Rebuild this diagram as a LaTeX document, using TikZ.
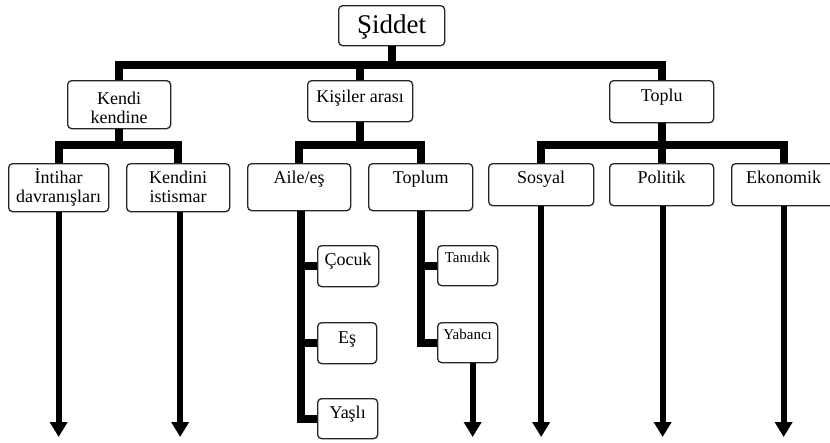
\documentclass[tikz,border=0pt]{standalone}
\usepackage{fontspec}
\setmainfont{Liberation Serif}
\usetikzlibrary{arrows.meta}

\begin{document}
\begin{tikzpicture}[x=1pt,y=-1pt,
  box/.style={draw=black!85, line width=1.3pt, rounded corners=4pt, fill=white,
              inner sep=0pt, anchor=north west},
  lbl/.style={anchor=base, inner sep=0pt, font=\fontsize{18}{19}\selectfont},
  small/.style={anchor=base, inner sep=0pt, font=\fontsize{15}{16}\selectfont},
  trunk/.style={line width=8pt, line join=miter, line cap=butt},
  arr/.style={line width=6pt, -{Triangle[width=17pt,length=15pt]}}]

\useasboundingbox (0,0) rectangle (830,442);

% ---- boxes ----
\node[box, minimum width=106pt, minimum height=40pt] (sid) at (338,5) {};
\node[anchor=base, inner sep=0pt, font=\fontsize{27}{28}\selectfont] at ([yshift=-28pt]sid.north) {Şiddet};

\node[box, minimum width=103pt, minimum height=48pt] (kk) at (67,80) {};
\node[lbl] at ([yshift=-24pt]kk.north) {\parbox[t]{100pt}{\centering Kendi\\kendine}};

\node[box, minimum width=105pt, minimum height=41pt] (ka) at (307,80) {};
\node[lbl] at ([yshift=-22pt]ka.north) {Kişiler arası};

\node[box, minimum width=104pt, minimum height=42pt] (toplu) at (609,80) {};
\node[lbl] at ([yshift=-21pt]toplu.north) {Toplu};

\node[box, minimum width=100pt, minimum height=48pt] (intihar) at (8,163) {};
\node[lbl] at ([yshift=-20pt]intihar.north) {\parbox[t]{98pt}{\centering İntihar\\davranışları}};

\node[box, minimum width=103pt, minimum height=48pt] (kendini) at (126,163) {};
\node[lbl] at ([yshift=-20pt]kendini.north) {\parbox[t]{100pt}{\centering Kendini\\istismar}};

\node[box, minimum width=103pt, minimum height=47pt] (aile) at (247,163) {};
\node[lbl] at ([yshift=-20pt]aile.north) {Aile/eş};

\node[box, minimum width=104pt, minimum height=47pt] (toplum) at (368,163) {};
\node[lbl] at ([yshift=-20pt]toplum.north) {Toplum};

\node[box, minimum width=105pt, minimum height=42pt] (sosyal) at (488,163) {};
\node[lbl] at ([yshift=-20pt]sosyal.north) {Sosyal};

\node[box, minimum width=104pt, minimum height=42pt] (politik) at (609,163) {};
\node[lbl] at ([yshift=-20pt]politik.north) {Politik};

\node[box, minimum width=104pt, minimum height=42pt] (ekon) at (731,163) {};
\node[lbl] at ([yshift=-20pt]ekon.north) {Ekonomik};

\node[box, minimum width=61pt, minimum height=41pt] (cocuk) at (317,245) {};
\node[lbl] at ([yshift=-20pt]cocuk.north) {Çocuk};

\node[box, minimum width=59pt, minimum height=41pt] (es) at (317,322) {};
\node[lbl] at ([yshift=-21pt]es.north) {Eş};

\node[box, minimum width=60pt, minimum height=40pt] (yasli) at (317,398) {};
\node[lbl] at ([yshift=-20pt]yasli.north) {Yaşlı};

\node[box, minimum width=60pt, minimum height=40pt] (tanidik) at (437,245) {};
\node[small] at ([yshift=-17pt]tanidik.north) {Tanıdık};

\node[box, minimum width=60pt, minimum height=40pt] (yabanci) at (437,322) {};
\node[small] at ([yshift=-17pt]yabanci.north) {Yabancı};

% ---- junction levels ----
\coordinate (j0) at ([yshift=-19pt]sid.south);
\coordinate (j1) at ([yshift=-16pt]kk.south);
\coordinate (j2) at (ka.south |- j1);
\coordinate (j3) at (toplu.south |- j1);
\coordinate (av) at ([xshift=1.5pt]aile.south);

% ---- tree connectors ----
\draw[trunk] (sid.south) -- (j0);
\draw[trunk] (kk.north) |- (j0) -| (toplu.north);
\draw[trunk] (ka.north) -- (ka.north |- j0);

\draw[trunk] (kk.south) -- (j1);
\draw[trunk] (intihar.north) |- (j1) -| (kendini.north);

\draw[trunk] (ka.south) -- (j2);
\draw[trunk] (aile.north) |- (j2) -| (toplum.north);

\draw[trunk] (toplu.south) -- (j3);
\draw[trunk] (sosyal.north) |- (j3) -| (ekon.north);
\draw[trunk] (politik.north) -- (politik.north |- j3);

\draw[trunk] (av) |- (yasli.west);
\draw[trunk] (cocuk.west) -- (cocuk.west -| av);
\draw[trunk] (es.west) -- (es.west -| av);

\draw[trunk] (toplum.south) |- (yabanci.west);
\draw[trunk] (tanidik.west) -- (tanidik.west -| toplum.south);

% ---- open-ended arrows ----
\coordinate (s1) at (intihar.south);
\coordinate (s2) at ([xshift=2pt]kendini.south);
\coordinate (s3) at ([xshift=5pt]yabanci.south);
\coordinate (s4) at (sosyal.south);
\coordinate (s5) at ([xshift=1pt]politik.south);
\coordinate (s6) at (ekon.south);
\coordinate (e1) at (s1 |- 0,437);
\coordinate (e2) at (s2 |- 0,437);
\coordinate (e3) at (s3 |- 0,437);
\coordinate (e4) at (s4 |- 0,437);
\coordinate (e5) at (s5 |- 0,437);
\coordinate (e6) at (s6 |- 0,437);

\draw[arr] (s1) -- (e1);
\draw[arr] (s2) -- (e2);
\draw[arr] (s3) -- (e3);
\draw[arr] (s4) -- (e4);
\draw[arr] (s5) -- (e5);
\draw[arr] (s6) -- (e6);

\end{tikzpicture}
\end{document}
